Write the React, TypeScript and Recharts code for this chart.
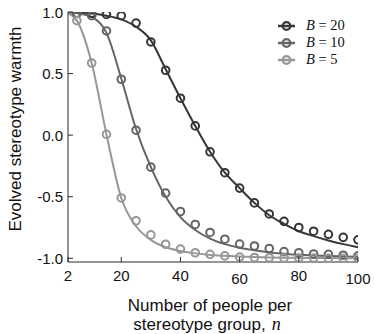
import React from 'react';
import { ComposedChart, Line, Scatter, XAxis, YAxis, Legend } from 'recharts';

// fitted curves
const nLine = [2, 5, 10, 15, 20, 25, 30, 35, 40, 45, 50, 55, 60, 65, 70, 75, 80, 85, 90, 95, 100];
const lineB20 = [0.998, 0.995, 0.987, 0.97, 0.94, 0.88, 0.77, 0.535, 0.3, 0.075, -0.135, -0.305, -0.43, -0.55, -0.65, -0.72, -0.78, -0.82, -0.855, -0.885, -0.91];
const lineB10 = [0.997, 0.99, 0.96, 0.83, 0.46, 0.05, -0.26, -0.5, -0.665, -0.77, -0.84, -0.885, -0.915, -0.935, -0.952, -0.963, -0.972, -0.978, -0.982, -0.985, -0.988];
const lineB5 = [0.99, 0.93, 0.586, 0.006, -0.51, -0.74, -0.85, -0.91, -0.94, -0.96, -0.973, -0.98, -0.986, -0.99, -0.993, -0.995, -0.996, -0.997, -0.998, -0.999, -1.0];

// simulation markers
const nPoint = [5, 10, 15, 20, 25, 30, 35, 40, 45, 50, 55, 60, 65, 70, 75, 80, 85, 90, 95, 100];
const pointB20 = [0.99, 0.99, 0.98, 0.97, 0.91, 0.757, 0.527, 0.3, 0.075, -0.135, -0.305, -0.43, -0.55, -0.64, -0.7, -0.75, -0.78, -0.805, -0.83, -0.85];
const pointB10 = [0.99, 0.97, 0.846, 0.454, 0.04, -0.26, -0.47, -0.62, -0.725, -0.79, -0.845, -0.884, -0.9, -0.92, -0.946, -0.955, -0.965, -0.968, -0.975, -0.98];
const pointB5 = [0.93, 0.586, 0.006, -0.51, -0.695, -0.81, -0.886, -0.925, -0.955, -0.968, -0.98, -0.99, -0.993, -0.995, -0.997, -0.998, -0.998, -0.999, -1.0, -1.0];

const xTicks = [2, 20, 40, 60, 80, 100];
const yTicks = [-1, -0.5, 0, 0.5, 1];
const legendLabels = ['20', '10', '5'];

const colors = ['#363636', '#656565', '#979797'];
const keys = ['b20', 'b10', 'b5'];
const frame = '#2b2b2b';
const sans = '"Liberation Sans", Arial, Helvetica, sans-serif';
const serif = '"Liberation Serif", "Times New Roman", serif';

const lineRows = nLine.map((n, i) => ({ n, b20: lineB20[i], b10: lineB10[i], b5: lineB5[i] }));
const pointRows = nPoint.map((n, i) => ({ n, b20: pointB20[i], b10: pointB10[i], b5: pointB5[i] }));

const BottomTick = ({ x, y, payload }: any) => {
  const dy = payload.value === 60 || payload.value === 100 ? 2.5 : 0;
  return (
    <g>
      <line x1={x} x2={x} y1={y} y2={y - 5} stroke={frame} strokeWidth={1} />
      <text x={x} y={y + 19 + dy} textAnchor="middle" fontSize={15} fontFamily={sans} fill="#111">
        {payload.value}
      </text>
    </g>
  );
};

const TopTick = ({ x, y }: any) => (
  <line x1={x} x2={x} y1={y} y2={y + 5} stroke={frame} strokeWidth={1} />
);

const LeftTick = ({ x, y, payload }: any) => (
  <g>
    <line x1={x} x2={x + 5} y1={y} y2={y} stroke={frame} strokeWidth={1} />
    <text x={x - 5} y={y + 5.5} textAnchor="end" fontSize={15} fontFamily={sans} fill="#111">
      {payload.value.toFixed(1)}
    </text>
  </g>
);

const RightTick = ({ x, y }: any) => (
  <line x1={x} x2={x - 5} y1={y} y2={y} stroke={frame} strokeWidth={1} />
);

const ring = (color: string) => (props: any) => (
  <circle cx={props.cx} cy={props.cy} r={3.8} fill="none" stroke={color} strokeWidth={2} />
);

const LegendBox = () => (
  <div style={{ display: 'flex', flexDirection: 'column' }}>
    {legendLabels.map((lab, i) => (
      <div key={lab} style={{ display: 'flex', alignItems: 'center', height: 17 }}>
        <svg width={19} height={12}>
          <line x1={1} x2={18} y1={6} y2={6} stroke={colors[i]} strokeWidth={2.5} />
          <circle cx={9.5} cy={6} r={3.8} fill="white" stroke={colors[i]} strokeWidth={2.2} />
          <line x1={5} x2={14} y1={6} y2={6} stroke={colors[i]} strokeWidth={2.5} />
        </svg>
        <span style={{ marginLeft: 10, fontFamily: serif, fontSize: 14.5, color: '#111', whiteSpace: 'pre' }}>
          <i>B</i>{' = ' + lab}
        </span>
      </div>
    ))}
  </div>
);

export default function App() {
  return (
    <div style={{ position: 'absolute', left: 0, top: 0, width: 374, height: 334, background: '#fff' }}>
      <ComposedChart width={374} height={334} margin={{ top: 12, right: 16, left: 0, bottom: 0 }}>
        <XAxis xAxisId="b" dataKey="n" type="number" domain={[2, 100]} ticks={xTicks}
          height={72} tickSize={0} tickMargin={0} tickLine={false}
          axisLine={{ stroke: frame }} tick={<BottomTick />} allowDataOverflow />
        <XAxis xAxisId="t" orientation="top" dataKey="n" type="number" domain={[2, 100]} ticks={xTicks}
          height={0} tickSize={0} tickMargin={0} tickLine={false}
          axisLine={{ stroke: frame }} tick={<TopTick />} allowDataOverflow />
        <YAxis yAxisId="l" type="number" domain={[-1.03, 1]} ticks={yTicks}
          width={68} tickSize={0} tickMargin={0} tickLine={false}
          axisLine={{ stroke: frame }} tick={<LeftTick />} allowDataOverflow />
        <YAxis yAxisId="r" orientation="right" type="number" domain={[-1.03, 1]} ticks={yTicks}
          width={0} tickSize={0} tickMargin={0} tickLine={false}
          axisLine={{ stroke: frame }} tick={<RightTick />} allowDataOverflow />

        {keys.map((k, i) => (
          <Line key={'l' + k} xAxisId="b" yAxisId="l" data={lineRows} dataKey={k} type="monotone"
            stroke={colors[i]} strokeWidth={2} dot={false} isAnimationActive={false} />
        ))}
        {keys.map((k, i) => (
          <Scatter key={'s' + k} xAxisId="b" yAxisId="l" data={pointRows} dataKey={k}
            shape={ring(colors[i])} isAnimationActive={false} />
        ))}

        <Legend layout="vertical" align="center" verticalAlign="middle" content={<LegendBox />}
          wrapperStyle={{ position: 'absolute', top: 17, left: 277, width: 'auto' }} />

        <text x={20.5} y={129} transform="rotate(-90, 20.5, 129)" textAnchor="middle"
          fontSize={17} fontFamily={sans} fill="#111">Evolved stereotype warmth</text>
        <text x={210} y={311} textAnchor="middle" fontSize={17} fontFamily={sans} fill="#111">
          Number of people per
        </text>
        <text x={207} y={330} textAnchor="middle" fontSize={17} fontFamily={sans} fill="#111">
          stereotype group,
          <tspan fontFamily={serif} fontStyle="italic" fontSize={18} dx={6}>n</tspan>
        </text>
      </ComposedChart>
    </div>
  );
}
